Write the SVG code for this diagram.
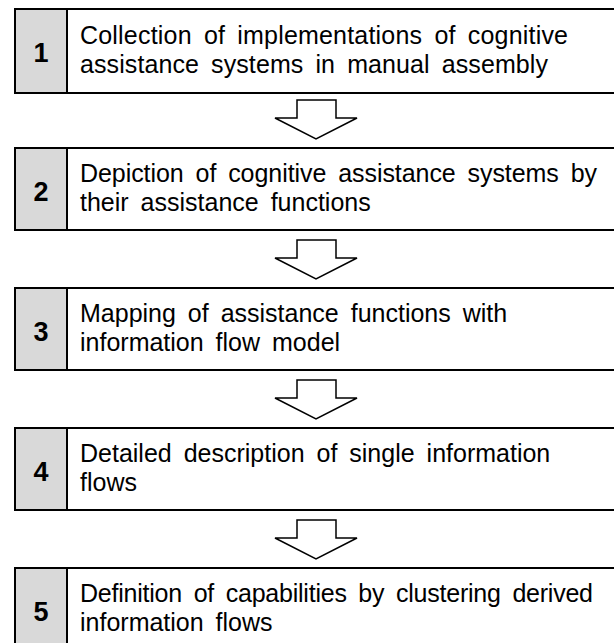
<svg xmlns="http://www.w3.org/2000/svg" width="614" height="643" viewBox="0 0 614 643">
<style>
.box{fill:#fff;stroke:#000;stroke-width:2}
.num{fill:#d9d9d9;stroke:#000;stroke-width:2}
.n{font-family:"Liberation Sans",Arial,sans-serif;font-size:27px;font-weight:bold;text-anchor:middle;fill:#000}
.t{font-family:"Liberation Sans",Arial,sans-serif;font-size:25px;word-spacing:5px;fill:#000}
.arr{fill:#fff;stroke:#000;stroke-width:1.5;stroke-linejoin:miter}
</style>
<rect width="614" height="643" fill="#fff"/>
<g id="connectors">
<path class="arr" d="M297,100 H336 V118 H357 L316,139 L275,118 H297 Z"/>
<path class="arr" d="M297,240 H336 V258 H357 L316,279 L275,258 H297 Z"/>
<path class="arr" d="M297,380 H336 V398 H357 L316,419 L275,398 H297 Z"/>
<path class="arr" d="M297,520 H336 V538 H357 L316,559 L275,538 H297 Z"/>
</g>
<g id="step1">
<rect class="box" x="15" y="9" width="610" height="84"/>
<rect class="num" x="15" y="9" width="52" height="84"/>
<text class="n" x="41" y="62">1</text>
<text class="t" x="80" y="44" textLength="488" lengthAdjust="spacing">Collection of implementations of cognitive</text>
<text class="t" x="80" y="73" textLength="468" lengthAdjust="spacing">assistance systems in manual assembly</text>
</g>
<g id="step2">
<rect class="box" x="15" y="148" width="610" height="82"/>
<rect class="num" x="15" y="148" width="52" height="82"/>
<text class="n" x="41" y="201">2</text>
<text class="t" x="80" y="182" textLength="517" lengthAdjust="spacing">Depiction of cognitive assistance systems by</text>
<text class="t" x="80" y="211">their assistance functions</text>
</g>
<g id="step3">
<rect class="box" x="15" y="288" width="610" height="82"/>
<rect class="num" x="15" y="288" width="52" height="82"/>
<text class="n" x="41" y="341">3</text>
<text class="t" x="80" y="322">Mapping of assistance functions with</text>
<text class="t" x="80" y="351">information flow model</text>
</g>
<g id="step4">
<rect class="box" x="15" y="428" width="610" height="82"/>
<rect class="num" x="15" y="428" width="52" height="82"/>
<text class="n" x="41" y="481">4</text>
<text class="t" x="80" y="462">Detailed description of single information</text>
<text class="t" x="80" y="491">flows</text>
</g>
<g id="step5">
<rect class="box" x="15" y="568" width="610" height="90"/>
<rect class="num" x="15" y="568" width="52" height="90"/>
<text class="n" x="41" y="621">5</text>
<text class="t" x="80" y="602" textLength="513" lengthAdjust="spacing">Definition of capabilities by clustering derived</text>
<text class="t" x="80" y="631">information flows</text>
</g>
</svg>
